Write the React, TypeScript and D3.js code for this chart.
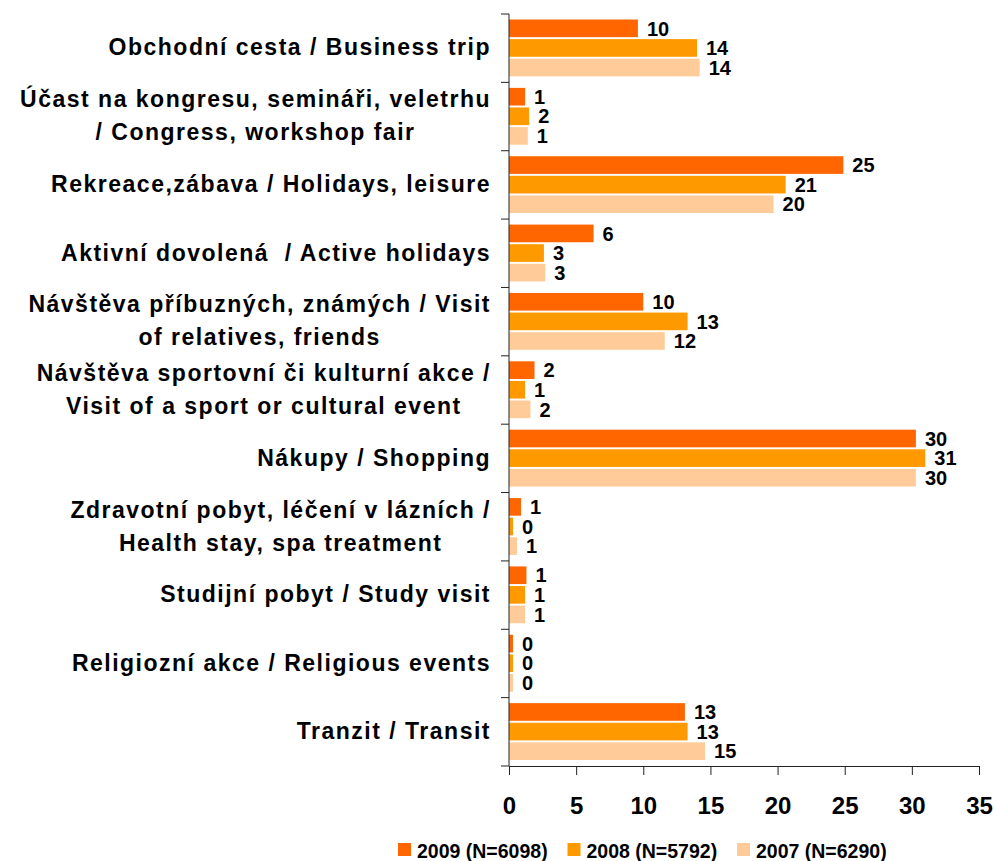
import React, { useEffect, useRef } from "react";
import * as d3 from "d3";

// categories (each entry = wrapped lines of the label)
const categoryLines: string[][] = [
  ["Obchodní cesta / Business trip"],
  ["Účast na kongresu, semináři, veletrhu", "/ Congress, workshop fair"],
  ["Rekreace,zábava / Holidays, leisure"],
  ["Aktivní dovolená  / Active holidays"],
  ["Návštěva příbuzných, známých / Visit", "of relatives, friends"],
  ["Návštěva sportovní či kulturní akce /", "Visit of a sport or cultural event"],
  ["Nákupy / Shopping"],
  ["Zdravotní pobyt, léčení v lázních /", "Health stay, spa treatment"],
  ["Studijní pobyt / Study visit"],
  ["Religiozní akce / Religious events"],
  ["Tranzit / Transit"],
];
const categories = categoryLines.map((l) => l.join(" "));

const seriesNames = ["2009 (N=6098)", "2008 (N=5792)", "2007 (N=6290)"];
const seriesColors = ["#FF6600", "#FF9900", "#FFCC99"];

const values2009 = [9.6, 1.2, 24.9, 6.3, 10.0, 1.9, 30.3, 0.9, 1.3, 0.3, 13.1];
const values2008 = [14.0, 1.5, 20.6, 2.6, 13.3, 1.2, 31.0, 0.3, 1.2, 0.3, 13.3];
const values2007 = [14.2, 1.4, 19.7, 2.7, 11.6, 1.6, 30.3, 0.6, 1.2, 0.3, 14.6];
const seriesValues = [values2009, values2008, values2007];

const xTicks = [0, 5, 10, 15, 20, 25, 30, 35];

const WIDTH = 994;
const HEIGHT = 861;
const FONT = "'Liberation Sans', Arial, sans-serif";

export default function App() {
  const ref = useRef<SVGSVGElement>(null);

  useEffect(() => {
    const svg = d3.select(ref.current);
    svg.selectAll("*").remove();

    const x = d3.scaleLinear().domain([0, 35]).range([509, 979]);
    const y0 = d3.scaleBand().domain(categories).range([14, 766]).padding(0);
    const y1 = d3
      .scaleBand()
      .domain(seriesNames)
      .range([5.5, y0.step() - 6])
      .paddingInner(0.1);

    // bars + value labels
    const groups = svg
      .append("g")
      .selectAll("g")
      .data(categories)
      .join("g")
      .attr("transform", (d) => `translate(0,${y0(d)})`);

    seriesNames.forEach((s, si) => {
      groups
        .append("rect")
        .attr("x", x(0))
        .attr("y", y1(s)!)
        .attr("width", (_, i) => x(seriesValues[si][i]) - x(0))
        .attr("height", y1.bandwidth())
        .attr("fill", seriesColors[si]);

      groups
        .append("text")
        .attr("x", (_, i) => x(seriesValues[si][i]) + 9)
        .attr("y", y1(s)! + y1.bandwidth() / 2)
        .attr("dy", "0.36em")
        .attr("font-family", FONT)
        .attr("font-weight", "bold")
        .attr("font-size", 20)
        .attr("fill", "#000")
        .text((_, i) => Math.round(seriesValues[si][i]));
    });

    // y axis
    const yAxis = svg.append("g");
    yAxis
      .append("line")
      .attr("x1", x(0))
      .attr("x2", x(0))
      .attr("y1", y0.range()[0])
      .attr("y2", y0.range()[1])
      .attr("stroke", "#222");
    const bounds = categories.map((c) => y0(c)!).concat([y0.range()[1]]);
    yAxis
      .selectAll("line.tick")
      .data(bounds)
      .join("line")
      .attr("class", "tick")
      .attr("x1", x(0) - 8)
      .attr("x2", x(0))
      .attr("y1", (d) => d)
      .attr("y2", (d) => d)
      .attr("stroke", "#222");

    // category labels (lines centred in a right-aligned block)
    const labelRight = 491;
    categoryLines.forEach((lines, i) => {
      const cy = y0(categories[i])! + y0.bandwidth() / 2;
      const g = svg.append("g");
      const texts = lines.map((line, li) =>
        g
          .append("text")
          .attr("y", cy + (li - (lines.length - 1) / 2) * 33 - 1)
          .attr("dy", "0.36em")
          .attr("font-family", FONT)
          .attr("font-weight", "bold")
          .attr("font-size", 23)
          .attr("letter-spacing", 1.5)
          .attr("fill", "#000")
          .style("white-space", "pre")
          .text(line)
      );
      const widths = texts.map((t) => (t.node() as SVGTextElement).getComputedTextLength());
      const w = Math.max(...widths);
      texts.forEach((t) => t.attr("x", labelRight - w / 2).attr("text-anchor", "middle"));
    });

    // x axis
    const xAxis = svg
      .append("g")
      .attr("transform", `translate(0,${y0.range()[1]})`)
      .call(
        d3
          .axisBottom(x)
          .tickValues(xTicks)
          .tickSize(9)
          .tickPadding(22)
          .tickSizeOuter(0)
      );
    xAxis.select(".domain").attr("stroke", "#222");
    xAxis.selectAll(".tick line").attr("stroke", "#222");
    xAxis
      .selectAll(".tick text")
      .attr("font-family", FONT)
      .attr("font-weight", "bold")
      .attr("font-size", 24)
      .attr("fill", "#000");

    // legend
    const legend = svg
      .append("g")
      .selectAll("g")
      .data(seriesNames)
      .join("g")
      .attr("transform", (_, i) => `translate(${398 + i * 169.5},843)`);
    legend
      .append("rect")
      .attr("width", 13)
      .attr("height", 13)
      .attr("fill", (_, i) => seriesColors[i]);
    legend
      .append("text")
      .attr("x", 19)
      .attr("y", 14.5)
      .attr("font-family", FONT)
      .attr("font-weight", "bold")
      .attr("font-size", 19.5)
      .attr("fill", "#000")
      .text((d) => d);
  }, []);

  return (
    <svg
      ref={ref}
      width={WIDTH}
      height={HEIGHT}
      style={{ position: "absolute", left: 0, top: 0, background: "#fff" }}
    />
  );
}
